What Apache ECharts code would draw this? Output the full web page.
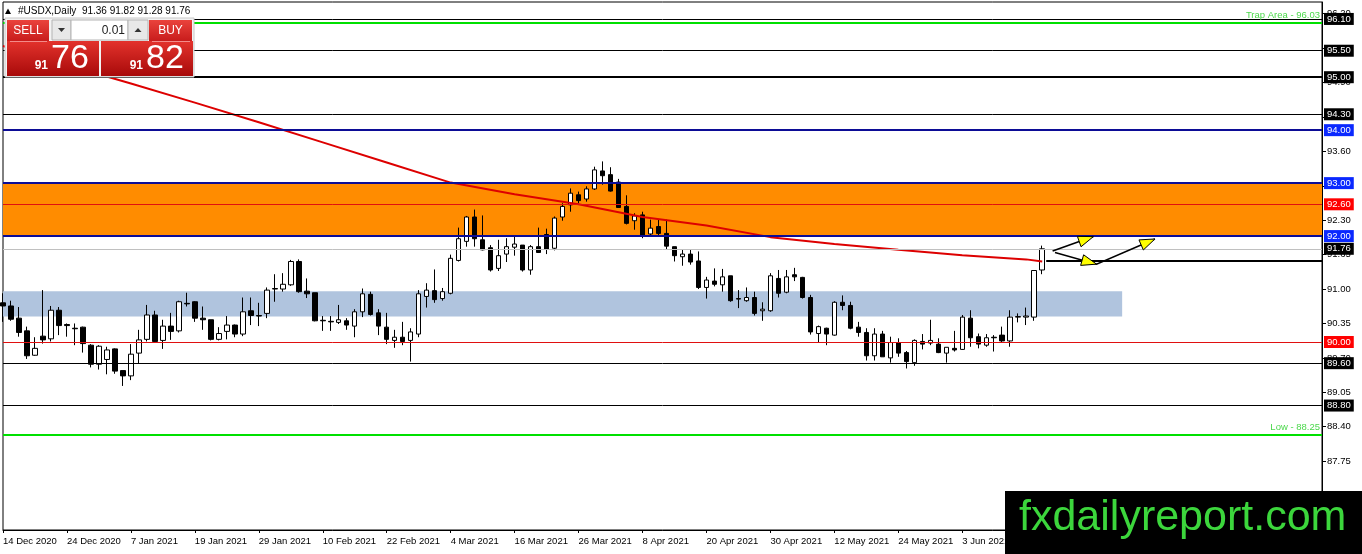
<!DOCTYPE html>
<html>
<head>
<meta charset="utf-8">
<title>#USDX,Daily</title>
<script src="https://cdn.jsdelivr.net/npm/echarts@6.0.0/dist/echarts.min.js"></script>
<style>
  html, body { margin: 0; padding: 0; background: #fff; }
  #chart { width: 1362px; height: 554px; }
</style>
</head>
<body>
<div id="chart"></div>
<script>
var FONT = 'Liberation Sans, Arial, sans-serif';

// date labels, one every 8 daily bars
var dateTicks = ['14 Dec 2020', '24 Dec 2020', '7 Jan 2021', '19 Jan 2021', '29 Jan 2021',
  '10 Feb 2021', '22 Feb 2021', '4 Mar 2021', '16 Mar 2021', '26 Mar 2021', '8 Apr 2021',
  '20 Apr 2021', '30 Apr 2021', '12 May 2021', '24 May 2021', '3 Jun 2021', '15 Jun 2021'];

// daily bars
var open = [
  90.74, 90.68, 90.45, 90.21, 89.75, 90.11, 90.06, 90.60, 90.33, 90.26,
  90.28, 89.94, 89.58, 89.67, 89.87, 89.46, 89.36, 89.79, 90.05, 90.51,
  90.03, 90.30, 90.21, 90.73, 90.76, 90.45, 90.42, 90.05, 90.20, 90.32,
  90.15, 90.59, 90.50, 90.54, 91.00, 91.00, 91.08, 91.52, 90.96, 90.93,
  90.41, 90.39, 90.37, 90.40, 90.30, 90.57, 90.90, 90.55, 90.28, 90.03,
  90.09, 90.03, 90.15, 90.86, 90.97, 90.82, 90.92, 91.54, 91.90, 92.36,
  91.93, 91.78, 91.39, 91.66, 91.79, 91.83, 91.36, 91.80, 92.03, 91.77,
  92.36, 92.59, 92.78, 92.70, 92.89, 93.23, 93.16, 93.02, 92.56, 92.29,
  92.40, 92.04, 92.18, 92.05, 91.80, 91.61, 91.66, 91.53, 91.03, 91.15,
  91.08, 91.25, 90.82, 90.78, 90.84, 90.59, 90.59, 91.20, 90.94, 91.27,
  91.22, 90.84, 90.16, 90.26, 90.13, 90.75, 90.69, 90.28, 90.18, 89.74,
  90.15, 89.70, 89.99, 89.80, 89.61, 90.01, 89.98, 89.96, 89.79, 89.88,
  89.86, 90.45, 90.10, 89.94, 90.09, 90.13, 90.02, 90.47, 90.47, 90.47,
  91.36];
var high = [
  90.92, 90.78, 90.66, 90.29, 90.09, 90.98, 90.68, 90.66, 90.35, 90.35,
  90.29, 89.96, 89.94, 89.91, 89.88, 89.46, 89.96, 90.23, 90.70, 90.59,
  90.42, 90.55, 90.78, 90.93, 90.77, 90.67, 90.42, 90.28, 90.49, 90.33,
  90.84, 90.84, 90.74, 91.03, 91.28, 91.30, 91.55, 91.56, 91.20, 90.93,
  90.49, 90.49, 90.70, 90.45, 90.62, 91.01, 90.95, 90.62, 90.55, 90.23,
  90.38, 90.26, 90.98, 91.11, 91.37, 91.02, 91.65, 92.16, 92.38, 92.50,
  92.39, 91.83, 91.93, 91.96, 91.99, 91.83, 91.83, 92.16, 92.14, 92.37,
  92.62, 92.90, 92.84, 92.94, 93.31, 93.41, 93.30, 93.08, 92.77, 92.43,
  92.46, 92.31, 92.31, 92.31, 91.80, 91.74, 91.74, 91.71, 91.23, 91.39,
  91.38, 91.25, 90.98, 91.03, 90.95, 90.75, 91.30, 91.36, 91.36, 91.40,
  91.23, 90.89, 90.31, 90.27, 90.77, 90.88, 90.76, 90.38, 90.26, 90.26,
  90.21, 90.10, 90.07, 89.83, 90.05, 90.15, 90.42, 90.07, 89.90, 90.21,
  90.51, 90.60, 90.16, 90.15, 90.13, 90.29, 90.60, 90.54, 90.65, 91.35,
  91.82];
var low = [
  90.38, 90.40, 90.10, 89.68, 89.74, 89.97, 90.01, 90.13, 90.10, 89.94,
  89.80, 89.52, 89.48, 89.39, 89.40, 89.17, 89.28, 89.60, 90.01, 89.99,
  89.87, 90.04, 90.18, 90.67, 90.38, 90.23, 90.03, 90.03, 90.05, 90.09,
  90.11, 90.32, 90.30, 90.45, 90.76, 90.95, 91.06, 90.93, 90.83, 90.39,
  90.21, 90.21, 90.34, 90.23, 90.09, 90.47, 90.50, 90.13, 89.96, 89.89,
  89.94, 89.63, 90.09, 90.65, 90.74, 90.78, 90.90, 91.52, 91.80, 91.80,
  91.73, 91.33, 91.34, 91.51, 91.63, 91.33, 91.27, 91.68, 91.66, 91.73,
  92.29, 92.46, 92.62, 92.65, 92.87, 92.97, 92.84, 92.53, 92.22, 92.12,
  91.96, 92.01, 91.99, 91.75, 91.52, 91.44, 91.46, 91.00, 90.82, 91.05,
  90.95, 90.76, 90.64, 90.76, 90.50, 90.40, 90.57, 90.84, 90.92, 91.15,
  90.82, 90.14, 89.99, 89.94, 90.12, 90.60, 90.24, 90.10, 89.65, 89.65,
  89.72, 89.61, 89.72, 89.50, 89.55, 89.86, 89.94, 89.79, 89.61, 89.82,
  89.85, 89.91, 89.88, 89.91, 89.82, 90.00, 89.91, 90.37, 90.32, 90.40,
  91.28];
var close = [
  90.68, 90.43, 90.18, 89.74, 89.88, 90.04, 90.60, 90.31, 90.31, 90.25,
  89.97, 89.58, 89.92, 89.85, 89.45, 89.36, 89.77, 90.04, 90.51, 90.01,
  90.30, 90.20, 90.76, 90.72, 90.45, 90.42, 90.05, 90.16, 90.32, 90.15,
  90.57, 90.50, 90.49, 90.98, 91.01, 91.09, 91.52, 90.95, 90.91, 90.40,
  90.40, 90.38, 90.42, 90.32, 90.57, 90.91, 90.52, 90.30, 90.05, 90.09,
  90.01, 90.19, 90.91, 90.98, 90.80, 90.95, 91.58, 91.95, 92.36, 91.95,
  91.74, 91.36, 91.63, 91.80, 91.85, 91.36, 91.80, 91.69, 91.75, 92.34,
  92.56, 92.81, 92.67, 92.89, 93.25, 93.14, 92.85, 92.54, 92.24, 92.38,
  92.01, 92.15, 92.05, 91.81, 91.63, 91.66, 91.51, 91.03, 91.17, 91.09,
  91.23, 90.78, 90.81, 90.84, 90.54, 90.62, 91.25, 90.92, 91.23, 91.23,
  90.84, 90.19, 90.29, 90.15, 90.75, 90.69, 90.26, 90.18, 89.74, 90.15,
  89.72, 89.99, 89.79, 89.63, 90.03, 89.96, 90.03, 89.80, 89.90, 89.85,
  90.47, 90.08, 89.96, 90.08, 90.08, 90.02, 90.47, 90.48, 90.49, 91.35,
  91.76];

// red moving average, read every 8 bars: [bar, value]
var maPoints = [[0, 95.59], [8, 95.23], [16, 94.88], [24, 94.52], [32, 94.15], [40, 93.77],
  [48, 93.39], [56, 93.01], [64, 92.79], [72, 92.60], [80, 92.36], [88, 92.20], [96, 91.98],
  [104, 91.85], [112, 91.74], [120, 91.64], [128, 91.56], [130, 91.52]];

// drawn levels
var boxLevels = [96.10, 95.50, 95.00, 94.30, 94.00, 93.00, 92.60, 92.00, 91.76, 90.00, 89.60, 88.80];
var trapLevel = 96.03;
var lowLevel = 88.25;
var breakLevel = 91.53;
var orangeZone = [92.00, 93.00];
var blueZone = [90.48, 90.96];
var blueZoneEnd = 140;
var lastIndex = 130;
var slotCount = 165;

// projected arrows: [bar, price] vertices
var arrowPaths = [
  [[131.3, 91.72], [136.4, 91.99]],
  [[131.6, 91.69], [136.8, 91.47], [144.1, 91.945]]
];

var bid = close[lastIndex];
var ask = 91.82;

var candleData = open.map(function (o, i) { return [i, o, close[i], low[i], high[i]]; });

function levelStyle(p) {
  if (p === 94.00 || p === 93.00 || p === 92.00) return { line: '#0c0c96', width: 2, box: '#0a28ff' };
  if (p === 92.60 || p === 90.00) return { line: '#e01010', width: 1, box: '#ff0000' };
  if (p === 91.76) return { line: '#c0c0c0', width: 1, box: '#000' };
  if (p === 95.00) return { line: '#000', width: 2, box: '#000' };
  return { line: '#000', width: 1, box: '#000' };
}

var levelLines = boxLevels.map(function (p) {
  var s = levelStyle(p);
  return {
    yAxis: p,
    lineStyle: { color: s.line, width: s.width, type: 'solid' },
    label: {
      show: true, position: 'end', distance: 2, formatter: p.toFixed(2),
      color: '#fff', backgroundColor: s.box, padding: [1, 3, 0, 3],
      fontSize: 9.5, fontFamily: FONT, lineHeight: 11
    }
  };
});
levelLines.push({
  yAxis: trapLevel,
  lineStyle: { color: '#00e000', width: 2, type: 'solid' },
  label: { show: true, position: 'insideEndTop', distance: 2, formatter: 'Trap Area - ' + trapLevel.toFixed(2),
    color: '#4cd84c', fontSize: 9.5, fontFamily: FONT }
});
levelLines.push({
  yAxis: lowLevel,
  lineStyle: { color: '#00e000', width: 2, type: 'solid' },
  label: { show: true, position: 'insideEndTop', distance: 2, formatter: 'Low - ' + lowLevel.toFixed(2),
    color: '#4cd84c', fontSize: 9.5, fontFamily: FONT }
});
levelLines.push([
  { coord: [lastIndex + 0.5, breakLevel], lineStyle: { color: '#000', width: 2, type: 'solid' }, label: { show: false } },
  { coord: [slotCount, breakLevel], lineStyle: { color: '#000', width: 2, type: 'solid' }, label: { show: false } }
]);

var chart = echarts.init(document.getElementById('chart'));

var option = {
  animation: false,
  backgroundColor: '#fff',
  grid: {
    left: 3, right: 40, top: 2, bottom: 24, containLabel: false, outerBoundsMode: 'none',
    show: true, borderColor: '#000', borderWidth: 1, backgroundColor: '#fff'
  },
  xAxis: {
    type: 'value', min: 0, max: slotCount, interval: 8,
    axisLine: { show: true, onZero: false, lineStyle: { color: '#000', width: 1 } },
    axisTick: { show: true, length: 3, lineStyle: { color: '#000' } },
    axisLabel: {
      show: true, color: '#000', fontSize: 9.5, fontFamily: FONT, align: 'left', margin: 6,
      showMaxLabel: false,
      formatter: function (v) { return dateTicks[Math.round(v / 8)] || ''; }
    },
    splitLine: { show: false }
  },
  yAxis: {
    type: 'value', position: 'right', min: 86.45, max: 96.42, interval: 0.65,
    axisLine: { show: true, onZero: false, lineStyle: { color: '#000', width: 1 } },
    axisTick: { show: true, length: 4, lineStyle: { color: '#000' } },
    axisLabel: {
      show: true, margin: 5, color: '#000', fontSize: 9.5, fontFamily: FONT,
      showMinLabel: false, showMaxLabel: false,
      formatter: function (v) { return v.toFixed(2); }
    },
    splitLine: { show: false }
  },
  series: [
    {
      name: 'zones', type: 'line', data: [], z: 1, silent: true, clip: false,
      markArea: {
        silent: true, label: { show: false },
        data: [
          [{ yAxis: orangeZone[0], itemStyle: { color: '#ff8c00', opacity: 1 } }, { yAxis: orangeZone[1] }],
          [{ coord: [0, blueZone[0]], itemStyle: { color: '#b0c4de', opacity: 1 } }, { coord: [blueZoneEnd, blueZone[1]] }]
        ]
      }
    },
    {
      name: 'levels', type: 'line', data: [], z: 2, silent: true, clip: false,
      markLine: {
        silent: true, symbol: ['none', 'none'], precision: 2, animation: false,
        emphasis: { disabled: true },
        data: levelLines
      }
    },
    {
      name: '#USDX', type: 'candlestick', data: candleData, z: 3, barWidth: 5, clip: true,
      itemStyle: {
        color: '#fff', color0: '#000', borderColor: '#000', borderColor0: '#000',
        borderColorDoji: '#000', borderWidth: 1
      },
      emphasis: { disabled: true }
    },
    {
      name: 'MA', type: 'line', data: maPoints, z: 4, showSymbol: false, symbol: 'none',
      smooth: false, silent: true,
      lineStyle: { color: '#dd0000', width: 2 }
    }
  ]
};

chart.setOption(option);

// ---- overlay: trade panel, title, watermark, arrows ----
function grad(top, bottom) {
  return { type: 'linear', x: 0, y: 0, x2: 0, y2: 1, colorStops: [{ offset: 0, color: top }, { offset: 1, color: bottom }] };
}
function txt(id, text, x, y, size, color, align, weight) {
  return {
    type: 'text', id: id, z: 102,
    style: {
      text: text, x: x, y: y, fill: color, fontSize: size, fontFamily: FONT, fontWeight: weight || 'normal',
      textAlign: align, align: align, textVerticalAlign: 'middle', verticalAlign: 'middle'
    }
  };
}
function rect(id, x, y, w, h, fill, stroke) {
  return { type: 'rect', id: id, z: 101, shape: { x: x, y: y, width: w, height: h },
    style: { fill: fill, stroke: stroke || null, lineWidth: 1 } };
}

var bidStr = bid.toFixed(2).split('.');
var askStr = ask.toFixed(2).split('.');

var overlay = [
  { type: 'polygon', id: 'tri', z: 102, shape: { points: [[5, 14], [11, 14], [8, 8.5]] }, style: { fill: '#000' } },
  txt('title', '#USDX,Daily  ' + [open[lastIndex], high[lastIndex], low[lastIndex], close[lastIndex]]
    .map(function (v) { return v.toFixed(2); }).join(' '), 18, 11, 10, '#000', 'left'),

  rect('panel', 5, 18, 189, 59, '#f2f2f2', '#c8c8c8'),
  rect('sellHead', 7, 20, 42, 21, grad('#ea433c', '#c81c1c')),
  rect('minus', 52, 20, 19, 20, '#e8e8e8', '#b4b4b4'),
  rect('lot', 71, 20, 57, 20, '#fff', '#b4b4b4'),
  rect('plus', 128, 20, 20, 20, '#e8e8e8', '#b4b4b4'),
  rect('buyHead', 149, 20, 43, 21, grad('#ea433c', '#c81c1c')),
  rect('sellBox', 7, 41, 92, 35, grad('#e3322c', '#a80a0a')),
  rect('buyBox', 101, 41, 92, 35, grad('#e3322c', '#a80a0a')),
  { type: 'line', id: 'sepS', z: 102, shape: { x1: 10, y1: 41.5, x2: 47, y2: 41.5 }, style: { stroke: 'rgba(255,200,200,0.6)', lineWidth: 1 } },
  { type: 'line', id: 'sepB', z: 102, shape: { x1: 152, y1: 41.5, x2: 190, y2: 41.5 }, style: { stroke: 'rgba(255,200,200,0.6)', lineWidth: 1 } },
  { type: 'polygon', id: 'down', z: 102, shape: { points: [[58, 28], [65, 28], [61.5, 32]] }, style: { fill: '#333' } },
  { type: 'polygon', id: 'up', z: 102, shape: { points: [[134.5, 32], [141.5, 32], [138, 28]] }, style: { fill: '#333' } },
  txt('sellTxt', 'SELL', 28, 31, 12, '#fff', 'center'),
  txt('buyTxt', 'BUY', 170.5, 31, 12, '#fff', 'center'),
  txt('lotTxt', '0.01', 125, 30.5, 12, '#222', 'right'),
  txt('bidBig', bidStr[0], 48, 66, 12, '#fff', 'right', 'bold'),
  txt('bidSmall', bidStr[1], 51, 59, 34, '#fff', 'left'),
  txt('askBig', askStr[0], 143, 66, 12, '#fff', 'right', 'bold'),
  txt('askSmall', askStr[1], 146, 59, 34, '#fff', 'left'),

  rect('wmBox', 1005, 491, 357, 63, '#000'),
  txt('wmTxt', 'fxdailyreport.com', 1019, 518, 43, '#3cd63c', 'left')
];

function arrowHead(id, a, b) {
  var dx = b[0] - a[0], dy = b[1] - a[1];
  var len = Math.sqrt(dx * dx + dy * dy);
  var ux = dx / len, uy = dy / len, L = 15, W = 5.5;
  var bx = b[0] - ux * L, by = b[1] - uy * L;
  return {
    type: 'polygon', id: id, z: 61,
    shape: { points: [[b[0], b[1]], [bx - uy * W, by + ux * W], [bx + uy * W, by - ux * W]] },
    style: { fill: '#ffff00', stroke: '#000', lineWidth: 1 }
  };
}

arrowPaths.forEach(function (path, k) {
  var pts = path.map(function (p) { return chart.convertToPixel({ gridIndex: 0 }, p); });
  overlay.push({ type: 'polyline', id: 'shaft' + k, z: 60, shape: { points: pts },
    style: { stroke: '#000', lineWidth: 1.6, fill: null } });
  for (var i = 1; i < pts.length; i++) overlay.push(arrowHead('head' + k + '_' + i, pts[i - 1], pts[i]));
});

chart.setOption({ graphic: overlay });
</script>
</body>
</html>
